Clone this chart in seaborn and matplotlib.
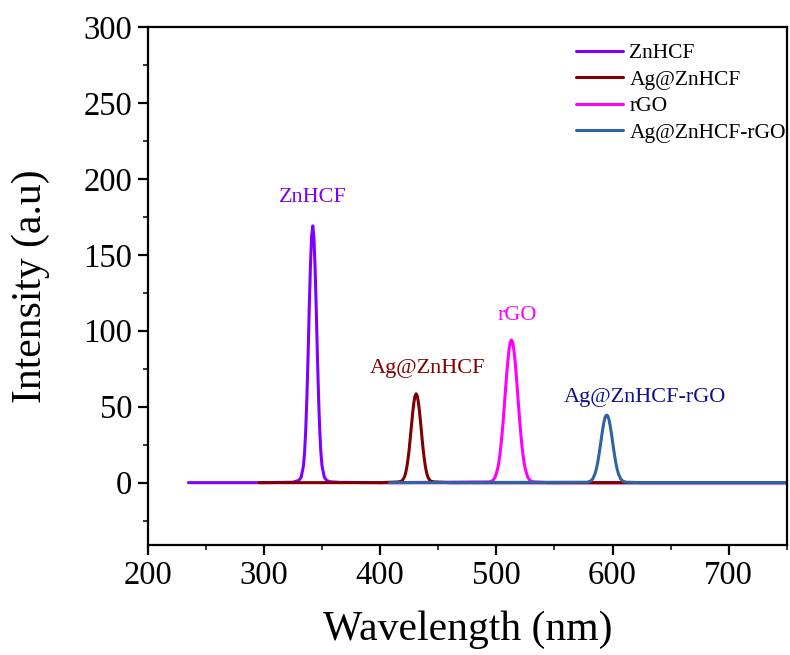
import numpy as np
import pandas as pd
import seaborn as sns
import matplotlib.pyplot as plt
from matplotlib.ticker import MultipleLocator
from matplotlib.lines import Line2D

series_names = ["ZnHCF", "Ag@ZnHCF", "rGO", "Ag@ZnHCF-rGO"]
line_colors = ["#8000FF", "#800000", "#FF00FF", "#2E64A4"]
label_colors = ["#8000FF", "#800000", "#FF00FF", "#101090"]

zn_wl = [235, 300, 325, 330, 332, 334, 335, 336, 337, 338, 339, 340, 341, 342,
         343, 344, 345, 346, 347, 348, 349, 350, 352, 354, 357, 365, 400, 750]
zn_int = [0, 0, 0.3, 1.5, 3.5, 11, 20, 35, 57, 84, 115, 142, 162, 169,
          162, 142, 115, 84, 57, 35, 20, 11, 3.5, 1.5, 0.6, 0.2, 0, 0]

ag_wl = [296, 400, 416, 419, 421, 422, 423, 424, 425, 426, 427, 428, 429, 430, 431,
         432, 433, 434, 435, 436, 437, 438, 439, 440, 441, 443, 446, 460, 750]
ag_int = [0, 0, 0.5, 1.2, 3.9, 6.5, 10.4, 15.6, 22, 29.8, 38, 45.9, 52.5, 57, 58.5,
          57, 52.5, 45.9, 38, 29.8, 22, 15.6, 10.4, 6.5, 3.9, 1.2, 0.5, 0, 0]

rgo_wl = [400, 494, 497, 499, 501, 502, 503, 504, 505, 506, 507, 508, 509, 510, 511, 512, 513,
          514, 515, 516, 517, 518, 519, 520, 521, 522, 523, 524, 525, 527, 529, 532, 545, 750]
rgo_int = [0, 0.5, 1.4, 3.7, 8.7, 12.7, 18, 24.6, 32.6, 41.8, 51.9, 62.2, 72.2, 81, 88, 92.5, 94,
           92.5, 88, 81, 72.2, 62.2, 51.9, 41.8, 32.6, 24.6, 18, 12.7, 8.7, 3.7, 1.4, 0.5, 0, 0]

agr_wl = [408, 578, 581, 583, 585, 586, 587, 588, 589, 590, 591, 592, 593, 594, 595,
          596, 597, 598, 599, 600, 601, 602, 603, 604, 605, 607, 609, 612, 625, 750]
agr_int = [0, 0.3, 0.9, 2.5, 6, 8.9, 12.4, 16.8, 21.8, 27.1, 32.5, 37.3, 41.3, 43.8, 44.5,
           43.8, 41.3, 37.3, 32.5, 27.1, 21.8, 16.8, 12.4, 8.9, 6, 2.5, 0.9, 0.3, 0, 0]

label_x = [342, 441, 518, 628]
label_y = [188, 75, 110, 56]

sns.set_theme(style="ticks")
plt.rcParams['font.family'] = ['Liberation Serif', 'DejaVu Serif']
plt.rcParams['text.color'] = 'black'
plt.rcParams['axes.labelcolor'] = 'black'

data = {
    "ZnHCF": (zn_wl, zn_int),
    "Ag@ZnHCF": (ag_wl, ag_int),
    "rGO": (rgo_wl, rgo_int),
    "Ag@ZnHCF-rGO": (agr_wl, agr_int),
}
frames = [pd.DataFrame({"Wavelength": wl, "Intensity": it, "Sample": name})
          for name, (wl, it) in data.items()]
df = pd.concat(frames, ignore_index=True)

fig = plt.figure(figsize=(7.9, 6.55), dpi=100)
ax = fig.add_axes([0.187, 0.168, 0.809, 0.791])

draw_order = ["ZnHCF", "rGO", "Ag@ZnHCF", "Ag@ZnHCF-rGO"]
color_map = dict(zip(series_names, line_colors))
for name in draw_order:
    sub = df[df["Sample"] == name]
    sns.lineplot(data=sub, x="Wavelength", y="Intensity", color=color_map[name],
                 sort=False, estimator=None, linewidth=2.2, ax=ax)

ax.set_xlim(200, 750)
ax.set_ylim(-41, 300)
ax.xaxis.set_major_locator(MultipleLocator(100))
ax.xaxis.set_minor_locator(MultipleLocator(50))
ax.yaxis.set_major_locator(MultipleLocator(50))
ax.yaxis.set_minor_locator(MultipleLocator(25))
ax.tick_params(which='major', direction='out', length=7, width=1.6,
               labelsize=23.5, pad=4, colors='black')
ax.tick_params(which='minor', direction='out', length=3.5, width=1.3)
for s in ax.spines.values():
    s.set_linewidth(1.6)
    s.set_color('black')

ax.set_xlabel("Wavelength (nm)", fontsize=30, labelpad=14, color='black')
ax.set_ylabel("Intensity (a.u)", fontsize=30, labelpad=24, color='black')

for name, x, y, c in zip(series_names, label_x, label_y, label_colors):
    ax.text(x, y, name, color=c, fontsize=16, ha='center', va='center')

handles = [Line2D([0], [0], color=c, lw=2.2) for c in line_colors]
leg = ax.legend(handles, series_names, loc='upper right', frameon=False,
                fontsize=15.5, handlelength=2.2, handletextpad=0.3,
                labelspacing=0.3, borderaxespad=0.0,
                bbox_to_anchor=(1.012, 0.985))
for t in leg.get_texts():
    t.set_color('black')

fig.savefig("out.png", dpi=100)
